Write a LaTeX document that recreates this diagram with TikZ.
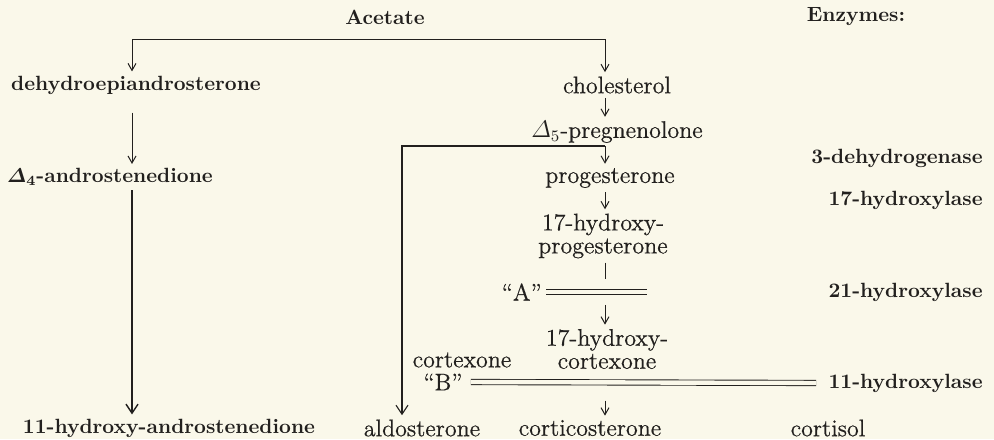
\documentclass[tikz,border=0pt]{standalone}
\usepackage{amsmath}
\usepackage{fontspec}
\usepackage{xcolor}
\usepackage{tikz}
\usetikzlibrary{arrows.meta, positioning, calc}
\newfontfamily\meio{lmroman12-regular.otf}[Ligatures=TeX, FakeBold=0.6]
\definecolor{papel}{RGB}{250,248,234}
\definecolor{tinta}{RGB}{34,32,30}
\tikzset{
    forte/.style    = {font=\fontsize{10.3}{11.5}\selectfont\bfseries\boldmath, text=tinta, inner sep=2pt},
    composto/.style = {font=\fontsize{12}{11.5}\selectfont\meio, text=tinta, align=center, inner sep=2pt},
    enzima/.style   = {forte, anchor=east},
    linha/.style    = {draw=tinta, line width=0.5pt},
    seta/.style     = {linha, -{Straight Barb[length=3.5pt,width=4pt]}},
    setas/.style    = {linha, {Straight Barb[length=3.5pt,width=4pt]}-{Straight Barb[length=3.5pt,width=4pt]}},
    setalonga/.style= {draw=tinta, line width=0.7pt, -{Straight Barb[length=4.5pt,width=6pt]}},
    dupla/.style    = {draw=tinta, double=papel, double distance=2.2pt, line width=0.45pt},
}

\begin{document}
\begin{tikzpicture}[x=0.5pt, y=-0.5pt]
        \fill[papel] (0,0) rectangle (994,439);
        \useasboundingbox (0,0) rectangle (994,439);
        % cabecalhos
        \node[forte] (acet) at (385,17) {Acetate};
        \node[forte] (enz) at (856,17) {Enzymes:};
        % coluna esquerda
        \node[forte] (dhea) at (136,85) {dehydroepiandrosterone};
        \node[forte] (andro) at (110,177) {$\varDelta_4$-androstenedione};
        \node[forte] (ohandro) at (169,428) {11-hydroxy-androstenedione};
        % cadeia central
        \node[composto] (chol) at (617,85) {cholesterol};
        \node[composto] (preg) at (617,132) {$\varDelta_5$-pregnenolone};
        \node[composto] (prog) at (610,178) {progesterone};
        \node[composto] (ohprog) at (603,236) {17-hydroxy-\\progesterone};
        \node[composto, anchor=east] (A) at (546,292) {``A''};
        \node[composto] (ohcort) at (607,349) {17-hydroxy-\\cortexone};
        \node[composto] (cortex) at (462,360) {cortexone};
        \node[composto] (B) at (443,382) {``B''};
        \node[composto] (aldo) at (422,428) {aldosterone};
        \node[composto] (corti) at (590,428) {corticosterone};
        \node[composto] (cortisol) at (828,428) {cortisol};
        % enzimas
        \node[enzima] (e3) at (987,158) {3-dehydrogenase};
        \node[enzima] (e17) at (987,200) {17-hydroxylase};
        \node[enzima] (e21) at (987,292) {21-hydroxylase};
        \node[enzima] (e11) at (987,383) {11-hydroxylase};
        % ligacoes
        \coordinate (acL) at (132,39);
        \coordinate (acR) at (605,39);
        \coordinate (pgL) at (402,146);
        \coordinate (pgR) at (605,146);
        \coordinate (Afim) at (647,292);
        \draw[setas] (dhea.north -| acL) -- (acL) -- (acR) -- (chol.north -| acR);
        \draw[seta, shorten <=7pt] (dhea.south -| acL) -- (andro.north -| acL);
        \draw[setalonga] (andro.south -| acL) -- (ohandro.north -| acL);
        \draw[seta] (chol.south -| acR) -- (preg.north -| acR);
        \draw[seta] (pgR) -- (prog.north -| pgR);
        \draw[setalonga, line width=0.55pt] (pgR) -- (pgL) -- (aldo.north -| pgL);
        \draw[seta] (prog.south -| pgR) -- (ohprog.north -| pgR);
        \draw[linha] (ohprog.south -| pgR) -- (A.north -| pgR);
        \draw[dupla] (A.east) -- (Afim);
        \draw[seta] (A.south -| pgR) -- (ohcort.north -| pgR);
        \draw[dupla, shorten <=2pt, shorten >=4pt] (B.east) -- (e11.west);
        \draw[seta, shorten <=3pt] (B.south -| pgR) -- (corti.north -| pgR);
    \end{tikzpicture}
\end{document}
